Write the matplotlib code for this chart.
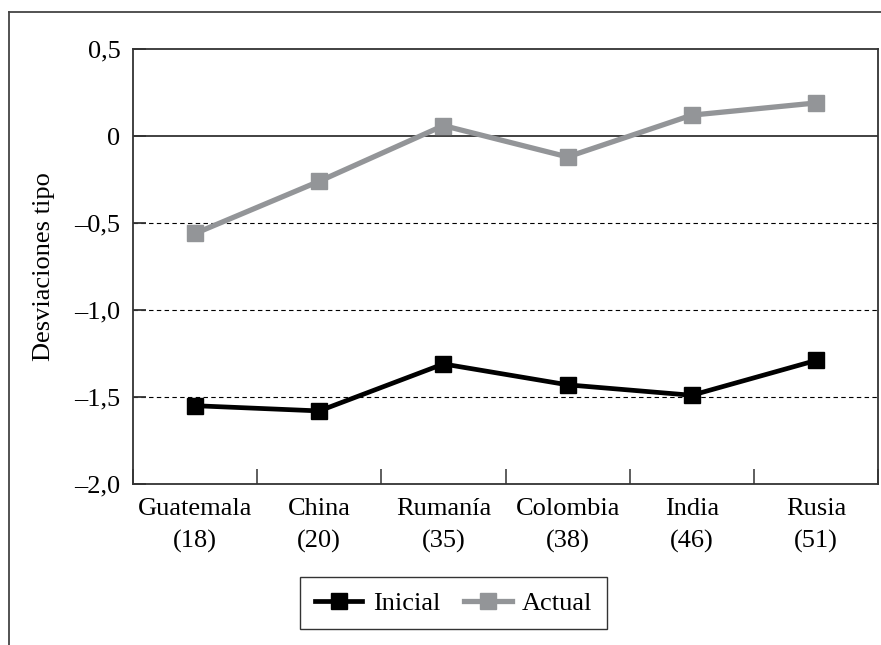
import numpy as np
import matplotlib
matplotlib.use('Agg')
import matplotlib.pyplot as plt
from matplotlib.lines import Line2D

plt.rcParams['font.family'] = ['Liberation Serif', 'DejaVu Serif']

paises = ['Guatemala', 'China', 'Rumanía', 'Colombia', 'India', 'Rusia']
rangos = ['(18)', '(20)', '(35)', '(38)', '(46)', '(51)']
inicial = [-1.55, -1.58, -1.31, -1.43, -1.49, -1.29]
actual = [-0.56, -0.26, 0.06, -0.12, 0.12, 0.19]
yticks = [0.5, 0, -0.5, -1.0, -1.5, -2.0]
ylabels = ['0,5', '0', '–0,5', '–1,0', '–1,5', '–2,0']

fs = 19

fig = plt.figure(figsize=(8.81, 6.45), dpi=100)
ax = fig.add_axes([0.151, 0.2496, 0.8456, 0.6744])

x = np.arange(len(paises))
gris = '#939598'
ax.plot(x, inicial, color='black', lw=3.4, marker='s', ms=11, label='Inicial')
ax.plot(x, actual, color=gris, lw=3.8, marker='s', ms=11, label='Actual')

ax.set_xlim(-0.5, len(paises) - 0.5)
ax.set_ylim(-2.0, 0.5)

# lineas de referencia
ax.axhline(0, color='#333333', lw=1.3, zorder=1)
for v in [-0.5, -1.0, -1.5]:
    ax.axhline(v, color='black', lw=0.8, ls=(0, (4, 3)), zorder=1)

for s in ax.spines.values():
    s.set_color('#333333')
    s.set_linewidth(1.3)

ax.set_yticks(yticks)
ax.set_yticklabels(ylabels)
ax.tick_params(axis='y', direction='in', length=9, width=1.3, color='#333333',
               labelsize=fs, pad=9)

# ticks de separacion entre categorias, etiquetas en el centro
ax.set_xticks(np.arange(len(paises) + 1) - 0.5)
ax.set_xticklabels([])
ax.set_xticks(x, minor=True)
ax.set_xticklabels([p + '\n' + r for p, r in zip(paises, rangos)], minor=True,
                   linespacing=1.55)
ax.tick_params(axis='x', which='major', direction='in', length=11, width=1.1,
               color='#333333')
ax.tick_params(axis='x', which='minor', length=0, labelsize=fs, pad=10)

ax.set_ylabel('Desviaciones tipo', fontsize=fs, labelpad=14)

leg = fig.legend(loc='center', bbox_to_anchor=(0.515, 0.065), ncol=2,
                 fontsize=fs, frameon=True, fancybox=False, handlelength=1.8,
                 columnspacing=0.9, handletextpad=0.4, borderpad=0.55)
leg.get_frame().set_edgecolor('black')
leg.get_frame().set_linewidth(1.0)

# marco exterior
fig.add_artist(Line2D([9 / 881, 1.0], [1 - 12 / 645, 1 - 12 / 645],
                      transform=fig.transFigure, color='#444444', lw=1.3))
fig.add_artist(Line2D([9 / 881, 9 / 881], [1 - 12 / 645, 0.0],
                      transform=fig.transFigure, color='#444444', lw=1.3))

fig.savefig('out.png', dpi=100)
